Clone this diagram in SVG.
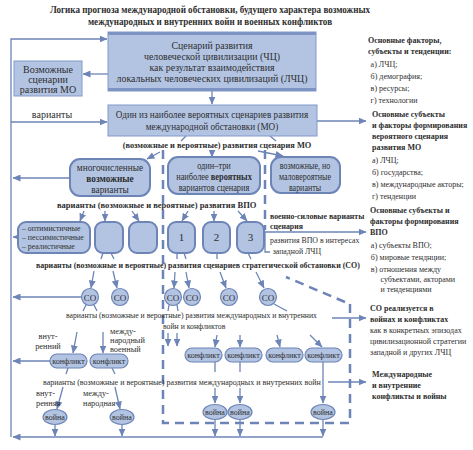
<svg xmlns="http://www.w3.org/2000/svg" width="473" height="450" viewBox="0 0 473 450">
<defs>
<marker id="ar" markerUnits="userSpaceOnUse" markerWidth="8" markerHeight="7" refX="7.5" refY="3.5" orient="auto"><path d="M0,0 L8,3.5 L0,7 z" fill="#6d84b6"/></marker>
</defs>
<style>
text{font-family:"Liberation Serif","DejaVu Serif",serif;fill:#2e2e2e}
.t{font-weight:bold;font-size:10.5px;text-anchor:middle}
.b{fill:#b3c4e3;stroke:#8299c8;stroke-width:1}
.rb{fill:#b3c4e3;stroke:#6d84b6;stroke-width:2}
.sb{fill:#b3c4e3;stroke:#6d84b6;stroke-width:1.2}
.m{font-size:10.5px;text-anchor:middle}
.c{text-anchor:middle}
.ln{fill:none;stroke:#6d84b6;stroke-width:1.3}
.ar{marker-end:url(#ar)}
.d{fill:none;stroke:#6d84b6;stroke-width:2.5;stroke-dasharray:9,6}
.r{font-size:9.2px}
.bd{font-weight:bold}
.n9{font-size:9.3px;text-anchor:middle}
.k{font-size:8px;text-anchor:middle}
.lr{font-size:8.7px}
</style>
<rect width="473" height="450" fill="#ffffff"/>

<g id="title" transform="matrix(0.865,0,0,1,28.35,0)">
<text class="t" x="210" y="13">Логика прогноза международной обстановки, будущего характера возможных</text>
<text class="t" x="210" y="25">международных и внутренних войн и военных конфликтов</text>
</g>

<g id="connectors">
<path class="ln ar" d="M323,437 H13"/>
<path class="ln ar" d="M11,437 V39 H107"/>
<path class="ln ar" d="M108,74 H83"/>
<path class="ln ar" d="M11,122 H107"/>
<path class="ln ar" d="M212,91 V104"/>
<path class="ln ar" d="M317,121 H366"/>
<path class="ln" d="M186,136 L181,141 M270,136 L276,141"/>
<path class="ln ar" d="M160,152 L147,159"/>
<path class="ln ar" d="M212,150 V157"/>
<path class="ln ar" d="M258,151 L283,156"/>
<path class="ln ar" d="M70,178 H13"/>
<path class="ln ar" d="M84,211 L80,221"/>
<path class="ln ar" d="M105,211 V221"/>
<path class="ln ar" d="M132,211 L139,221"/>
<path class="ln ar" d="M188,211 L182,221"/>
<path class="ln ar" d="M214,211 V221"/>
<path class="ln ar" d="M238,211 L247,221"/>
<path class="ln ar" d="M18,237 H13"/>
<path class="ln" d="M103,253 L101,259 M111,253 L114,259 M177,253 V259 M184,253 L186,259 M217,253 V259 M248,253 L251,259"/>
<path class="ln ar" d="M94,271 L91,288"/>
<path class="ln ar" d="M113,271 L117,288"/>
<path class="ln ar" d="M175,272 L174,288"/>
<path class="ln ar" d="M186,272 L189,288"/>
<path class="ln ar" d="M220,272 L226,288"/>
<path class="ln ar" d="M256,272 L264,288"/>
<path class="ln ar" d="M81,297 H13"/>
<path class="ln" d="M86,305 L83,311 M94,305 L97,311 M169,305 L168,311 M177,305 L178,311 M274,304 L287,311"/>
<path class="ln ar" d="M77,332 L73,353"/>
<path class="ln ar" d="M103,332 V353"/>
<path class="ln ar" d="M168,333 V346"/>
<path class="ln ar" d="M177,333 V346"/>
<path class="ln ar" d="M217,335 L215,347"/>
<path class="ln ar" d="M240,335 V347"/>
<path class="ln ar" d="M277,335 L280,347"/>
<path class="ln ar" d="M310,335 L322,347"/>
<path class="ln ar" d="M332,318 H366"/>
<path class="ln ar" d="M50,361 H13"/>
<path class="ln" d="M68,368 L66,374 M112,368 L115,374"/>
<path class="ln ar" d="M63,387 L57,409"/>
<path class="ln ar" d="M115,387 L120,409"/>
<path class="ln" d="M215,362 V372 M240,362 V372"/>
<path class="ln ar" d="M215,388 V403"/>
<path class="ln ar" d="M240,388 V403"/>
<path class="ln ar" d="M323,362 V403"/>
<path class="ln ar" d="M328,382 H366"/>
<path class="ln ar" d="M55,425 V436"/>
<path class="ln ar" d="M122,425 V436"/>
<path class="ln ar" d="M215,420 V436"/>
<path class="ln ar" d="M240,420 V436"/>
<path class="ln ar" d="M323,420 V436"/>
<path class="ln ar" d="M265,232 H366"/>
<path class="ln" d="M265,232 V252 H270"/>
<path class="d" d="M163,150 V423 H350 V304"/>
<path class="d" d="M345,302 L286,277"/>
<path class="d" d="M265,150 V230"/>
</g>

<g id="scenario-ch">
<rect class="b" x="108" y="32" width="208" height="59"/>
<rect x="108" y="32" width="208" height="3" fill="#7d93c3"/>
<rect x="108" y="88" width="208" height="3" fill="#7d93c3"/>
<g transform="matrix(0.94,0,0,1,12.72,0)">
<text class="m" x="212" y="49">Сценарий развития</text>
<text class="m" x="212" y="60">человеческой цивилизации (ЧЦ)</text>
<text class="m" x="212" y="71">как результат взаимодействия</text>
<text class="m" x="212" y="82">локальных человеческих цивилизаций (ЛЧЦ)</text>
</g>
</g>

<g id="possible-mo">
<rect class="b" x="14" y="61" width="68" height="35" stroke="#c3d0ea"/>
<text class="m" x="48" y="73" style="font-size:10px">Возможные</text>
<text class="m" x="48" y="83" style="font-size:10px">сценарии</text>
<text class="m" x="48" y="93" style="font-size:10px">развития МО</text>
</g>

<g id="variants-label">
<text class="m" x="52" y="118" style="font-size:10px">варианты</text>
</g>

<g id="probable-mo">
<rect class="b" x="108" y="105" width="209" height="31"/>
<g transform="matrix(0.9,0,0,1,21.2,0)">
<text class="m" x="212" y="118" style="font-size:10.2px">Один из наиболее вероятных сценариев развития</text>
<text class="m" x="212" y="130" style="font-size:10.2px">международной обстановки (МО)</text>
</g>
</g>

<g id="label-mo" transform="matrix(0.93,0,0,1,15.19,0)">
<text class="c bd" x="217" y="148" style="font-size:9px">(возможные и вероятные) развития сценария МО</text>
</g>

<g id="many">
<rect class="rb" x="70" y="159" width="80" height="37" rx="10"/>
<text class="n9" x="110" y="171">многочисленные</text>
<text class="n9 bd" x="110" y="182">возможные</text>
<text class="n9" x="110" y="193">варианты</text>
</g>

<g id="one-three">
<rect class="rb" x="168" y="157" width="92" height="37" rx="10"/>
<g transform="matrix(0.9,0,0,1,21.4,0)">
<text class="n9" x="214" y="169">один–три</text>
<text class="n9" x="214" y="180">наиболее <tspan class="bd">вероятных</tspan></text>
<text class="n9" x="214" y="191">вариантов сценария</text>
</g>
</g>

<g id="unlikely">
<rect class="rb" x="271" y="157" width="69" height="36" rx="10"/>
<g transform="matrix(0.86,0,0,1,42.7,0)">
<text class="n9" x="305" y="169">возможные, но</text>
<text class="n9" x="305" y="180">маловероятные</text>
<text class="n9" x="305" y="191">варианты</text>
</g>
</g>

<g id="label-vpo" transform="matrix(0.95,0,0,1,2.85,0)">
<text class="bd" x="57" y="208" style="font-size:9px">варианты (возможные и вероятные) развития ВПО</text>
</g>

<g id="military" transform="matrix(0.9,0,0,1,27,0)">
<text class="bd" x="270" y="219" style="font-size:8.7px">военно-силовые варианты</text>
<text class="bd" x="270" y="229" style="font-size:8.7px">сценария</text>
<text x="270" y="243" style="font-size:8.7px">развития ВПО в интересах</text>
<text x="273" y="254" style="font-size:8.7px">западной ЛЧЦ</text>
</g>

<g id="opt">
<rect class="rb" x="18" y="222" width="72" height="31" rx="8"/>
<text x="22" y="231" style="font-size:7.8px">– оптимистичные</text>
<text x="22" y="240" style="font-size:7.8px">– пессимистичные</text>
<text x="22" y="249" style="font-size:7.8px">– реалистичные</text>
</g>
<g id="box-a"><rect class="rb" x="95" y="222" width="28" height="31" rx="8"/></g>
<g id="box-b"><rect class="rb" x="129" y="222" width="28" height="31" rx="8"/></g>
<g id="v1"><rect class="rb" x="168" y="222" width="27" height="31" rx="8"/><text class="c" x="181.5" y="241" style="font-size:11px">1</text></g>
<g id="v2"><rect class="rb" x="203" y="222" width="27" height="31" rx="8"/><text class="c" x="216.5" y="241" style="font-size:11px">2</text></g>
<g id="v3"><rect class="rb" x="237" y="222" width="27" height="31" rx="8"/><text class="c" x="250.5" y="241" style="font-size:11px">3</text></g>

<g id="label-so" transform="matrix(0.9,0,0,1,3.6,0)">
<text class="bd" x="36" y="268" style="font-size:8.8px">варианты (возможные и вероятные) развития сценариев стратегической обстановки (СО)</text>
</g>

<g id="so1"><circle class="sb" cx="90" cy="297" r="8.5"/><text class="c" x="90" y="300.5" style="font-size:9px">СО</text></g>
<g id="so2"><circle class="sb" cx="120" cy="297" r="8.5"/><text class="c" x="120" y="300.5" style="font-size:9px">СО</text></g>
<g id="so3"><circle class="sb" cx="173" cy="297" r="8.5"/><text class="c" x="173" y="300.5" style="font-size:9px">СО</text></g>
<g id="so4"><circle class="sb" cx="192" cy="297" r="8.5"/><text class="c" x="192" y="300.5" style="font-size:9px">СО</text></g>
<g id="so5"><circle class="sb" cx="229" cy="297" r="8.5"/><text class="c" x="229" y="300.5" style="font-size:9px">СО</text></g>
<g id="so6"><circle class="sb" cx="268" cy="297" r="8.5"/><text class="c" x="268" y="300.5" style="font-size:9px">СО</text></g>

<g id="label-wc">
<text class="lr" x="66" y="318" transform="matrix(0.89,0,0,1,7.26,0)">варианты (возможные и вероятные) развития международных и внутренних</text>
<text class="lr" x="163" y="329" transform="matrix(0.89,0,0,1,17.93,0)">войн и  конфликтов</text>
</g>

<g id="left-notes">
<text class="c" x="48" y="339" style="font-size:8.3px">внут-</text>
<text class="c" x="48" y="349" style="font-size:8.3px">ренний</text>
<text x="110" y="334" style="font-size:8.3px">между-</text>
<text x="110" y="343" style="font-size:8.3px">народный</text>
<text x="110" y="352" style="font-size:8.3px">военный</text>
</g>

<g id="k1"><rect class="sb" x="50" y="354" width="37" height="14" rx="7"/><text class="k" x="68.5" y="364">конфликт</text></g>
<g id="k2"><rect class="sb" x="90" y="354" width="38" height="14" rx="7"/><text class="k" x="109" y="364">конфликт</text></g>
<g id="k3"><rect class="sb" x="185" y="348" width="37" height="14" rx="7"/><text class="k" x="203.5" y="358">конфликт</text></g>
<g id="k4"><rect class="sb" x="225" y="348" width="37" height="14" rx="7"/><text class="k" x="243.5" y="358">конфликт</text></g>
<g id="k5"><rect class="sb" x="266" y="348" width="37" height="14" rx="7"/><text class="k" x="284.5" y="358">конфликт</text></g>
<g id="k6"><rect class="sb" x="305" y="348" width="37" height="14" rx="7"/><text class="k" x="323.5" y="358">конфликт</text></g>

<g id="label-wars" transform="matrix(0.92,0,0,1,3.44,0)">
<text class="lr" x="43" y="385">варианты (возможные и вероятные) развития международных и внутренних войн</text>
</g>

<g id="left-notes2">
<text x="36" y="396" style="font-size:8.3px">внут-</text>
<text x="36" y="406" style="font-size:8.3px">ренняя</text>
<text x="83" y="396" style="font-size:8.3px">между-</text>
<text x="83" y="406" style="font-size:8.3px">народная</text>
</g>

<g id="w1"><ellipse class="sb" cx="55" cy="417" rx="12" ry="7.5"/><text class="k" x="55" y="420">война</text></g>
<g id="w2"><ellipse class="sb" cx="122" cy="417" rx="12" ry="7.5"/><text class="k" x="122" y="420">война</text></g>
<g id="w3"><ellipse class="sb" cx="215" cy="412" rx="12" ry="7.5"/><text class="k" x="215" y="415">война</text></g>
<g id="w4"><ellipse class="sb" cx="240" cy="412" rx="12" ry="7.5"/><text class="k" x="240" y="415">война</text></g>
<g id="w5"><ellipse class="sb" cx="323" cy="412" rx="12" ry="7.5"/><text class="k" x="323" y="415">война</text></g>

<g id="right-1" transform="matrix(0.87,0,0,1,47.84,0)">
<text class="r bd" x="368" y="43">Основные факторы,</text>
<text class="r bd" x="368" y="54">субъекты и тенденции:</text>
<text class="r" x="371" y="67">а) ЛЧЦ;</text>
<text class="r" x="371" y="79">б) демография;</text>
<text class="r" x="371" y="91">в) ресурсы;</text>
<text class="r" x="371" y="103">г) технологии</text>
</g>

<g id="right-2" transform="matrix(0.87,0,0,1,48.36,0)">
<text class="r bd" x="372" y="117">Основные субъекты</text>
<text class="r bd" x="372" y="128">и факторы формирования</text>
<text class="r bd" x="372" y="139">вероятного сценария</text>
<text class="r bd" x="372" y="150">развития МО</text>
<text class="r" x="372" y="163">а) ЛЧЦ;</text>
<text class="r" x="372" y="175">б) государства;</text>
<text class="r" x="372" y="187">в) международные акторы;</text>
<text class="r" x="372" y="199">г) тенденции</text>
</g>

<g id="right-3" transform="matrix(0.87,0,0,1,48.1,0)">
<text class="r bd" x="370" y="213">Основные субъекты и</text>
<text class="r bd" x="370" y="224">факторы формирования</text>
<text class="r bd" x="370" y="235">ВПО</text>
<text class="r" x="371" y="248">а) субъекты ВПО;</text>
<text class="r" x="371" y="260">б) мировые тенднции;</text>
<text class="r" x="371" y="272">в) отношения между</text>
<text class="r" x="382" y="282">субъектами, акторами</text>
<text class="r" x="382" y="292">и тенденциями</text>
</g>

<g id="right-4" transform="matrix(0.87,0,0,1,48.1,0)">
<text class="r bd" x="370" y="311">СО реализуется в</text>
<text class="r bd" x="370" y="322">войнах и конфликтах</text>
<text class="r" x="370" y="333">как в конкретных эпизодах</text>
<text class="r" x="370" y="344">цивилизационной стратегии</text>
<text class="r" x="370" y="355">западной и других ЛЧЦ</text>
</g>

<g id="right-5" transform="matrix(0.87,0,0,1,48.36,0)">
<text class="r bd" x="372" y="377">Международные</text>
<text class="r bd" x="372" y="388">и внутренние</text>
<text class="r bd" x="372" y="399">конфликты и войны</text>
</g>
</svg>
